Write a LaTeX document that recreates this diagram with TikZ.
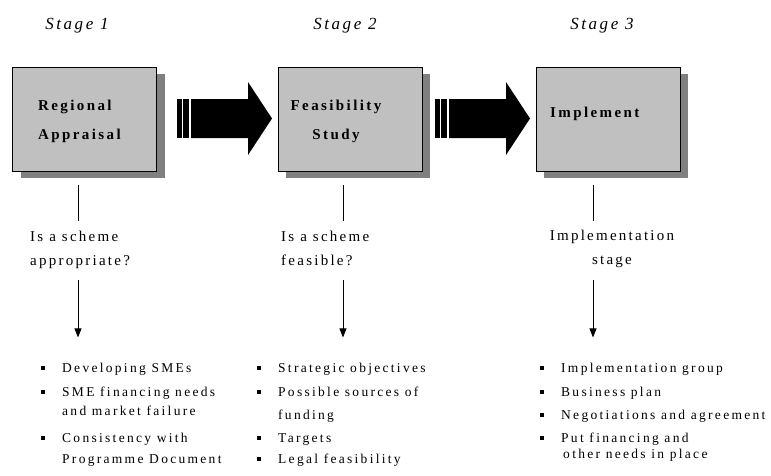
\documentclass[tikz,border=0pt]{standalone}
\usepackage{fontspec}
\setmainfont[LetterSpace=20]{Liberation Serif}
\usetikzlibrary{positioning,shadows,arrows.meta}

\definecolor{boxgray}{HTML}{C0C0C0}
\definecolor{shadegray}{HTML}{808080}

\newcommand{\sqbul}{\rule[2.5pt]{4pt}{4pt}}
\newcommand{\bitem}[1]{\makebox[21pt][l]{\sqbul}#1}
\newcommand{\bcont}[1]{\hspace*{21pt}#1}

\tikzset{
  stagebox/.style={draw=black, line width=0.8pt, fill=boxgray,
    minimum width=144pt, minimum height=104pt, inner sep=0pt,
    drop shadow={shadow xshift=8pt, shadow yshift=-7pt, fill=shadegray, opacity=1}},
  boxtext/.style={font=\fontsize{15}{29}\selectfont\bfseries\addfontfeature{LetterSpace=16}, align=left, inner sep=0pt},
  stagetitle/.style={font=\fontsize{17}{19}\selectfont\itshape\addfontfeature{LetterSpace=15}, inner sep=0pt},
  question/.style={font=\fontsize{15}{24}\selectfont\addfontfeature{LetterSpace=15}, inner sep=0pt},
  points/.style={font=\fontsize{13.5}{22}\selectfont\addfontfeature{LetterSpace=17}, align=left, inner sep=0pt},
  stem/.style={draw, line width=0.7pt},
  drop/.style={stem, -{Triangle[width=7pt,length=9pt]}},
  bigarrow/.pic={
    \fill (0,-19.5) rectangle (4.5,19.5);
    \fill (6,-19.5) rectangle (12,19.5);
    \fill (14,-19.5) -- (71,-19.5) -- (71,-36.5) -- (95,0) -- (71,36.5) -- (71,19.5) -- (14,19.5) -- cycle;
  }
}

\begin{document}
\begin{tikzpicture}[x=1pt,y=-1pt]
  \useasboundingbox (0,0) rectangle (771,475);

  \node[stagebox] (box1) at (84.7,119) {};
  \node[stagebox] (box2) at (350,119) {};
  \node[stagebox] (box3) at (608,119) {};

  \node[stagetitle, anchor=base] (st1) at (77,29) {Stage 1};
  \node[stagetitle, anchor=base] (st2) at (345,29) {Stage 2};
  \node[stagetitle, anchor=base] (st3) at (602,29) {Stage 3};

  \node[boxtext, anchor=base west] (lab1) at (38,139) {Regional\\Appraisal};
  \node[boxtext, align=center, anchor=base] (lab2) at (336,139) {Feasibility\\Study};
  \node[boxtext, anchor=base west] (lab3) at (550,117) {Implement};

  \pic at (177,118.5) {bigarrow};
  \pic at (435,118.5) {bigarrow};

  \node[question, align=left, anchor=base west] (q1) at (30,265) {Is a scheme\\appropriate?};
  \node[question, align=left, anchor=base west] (q2) at (281,265) {Is a scheme\\feasible?};
  \node[question, align=center, anchor=base] (q3) at (612,264) {Implementation\\stage};

  \node[points, anchor=base west] (l1) at (41,463) {\bitem{Developing SMEs}\\[2pt]
    \bitem{SME financing needs}\\[-3pt]
    \bcont{and market failure}\\[5pt]
    \bitem{Consistency with}\\[-1pt]
    \bcont{Programme Document}};
  \node[points, anchor=base west] (l2) at (257,463) {\bitem{Strategic objectives}\\[2pt]
    \bitem{Possible sources of}\\[1pt]
    \bcont{funding}\\[1pt]
    \bitem{Targets}\\[-1pt]
    \bitem{Legal feasibility}};
  \node[points, anchor=base west] (l3) at (540,458) {\bitem{Implementation group}\\[2pt]
    \bitem{Business plan}\\[1pt]
    \bitem{Negotiations and agreement}\\[1pt]
    \bitem{Put financing and}\\[-6pt]
    \hspace*{23pt}other needs in place};

  \coordinate (x1) at (78,0);
  \coordinate (x2) at (343,0);
  \coordinate (x3) at (593,0);

  \draw[stem, shorten <=14pt, shorten >=9pt] (box1.south -| x1) -- (q1.north -| x1);
  \draw[stem, shorten <=14pt, shorten >=9pt] (box2.south -| x2) -- (q2.north -| x2);
  \draw[stem, shorten <=14pt, shorten >=8pt] (box3.south -| x3) -- (q3.north -| x3);

  \draw[drop, shorten <=12pt, shorten >=25pt] (q1.south -| x1) -- (l1.north -| x1);
  \draw[drop, shorten <=15pt, shorten >=25pt] (q2.south -| x2) -- (l2.north -| x2);
  \draw[drop, shorten <=13pt, shorten >=25pt] (q3.south -| x3) -- (l3.north -| x3);
\end{tikzpicture}
\end{document}
